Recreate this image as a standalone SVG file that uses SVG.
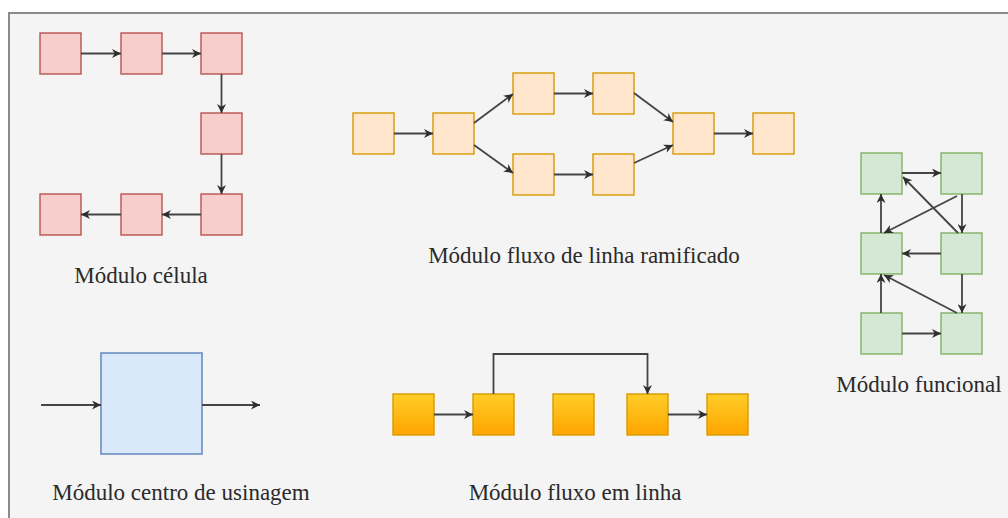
<svg xmlns="http://www.w3.org/2000/svg" width="1008" height="518" viewBox="0 0 1008 518">
  <style>
    .pink { fill: #f8cecc; stroke: #b85450; stroke-width: 1.4; }
    .peach { fill: #ffe6cc; stroke: #d79b00; stroke-width: 1.4; }
    .green { fill: #d5e8d4; stroke: #82b366; stroke-width: 1.4; }
    .blue { fill: #dae8fc; stroke: #6c8ebf; stroke-width: 1.6; }
    .gold { fill: url(#goldGrad); stroke: #d79b00; stroke-width: 1.4; }
    .edge { fill: none; stroke: #444444; stroke-width: 1.8; marker-end: url(#arrow); }
    .label { font-family: "Liberation Serif", "Times New Roman", serif; font-size: 23px; fill: #2a2a2a; text-anchor: middle; }
  </style>
  <defs>
    <linearGradient id="goldGrad" x1="0" y1="0" x2="0" y2="1">
      <stop offset="0" stop-color="#ffcd28"/>
      <stop offset="1" stop-color="#ffa500"/>
    </linearGradient>
    <marker id="arrow" viewBox="0 0 10 10" refX="10" refY="5" markerWidth="10" markerHeight="9" markerUnits="userSpaceOnUse" orient="auto">
      <path d="M0,0 L10,5 L0,10 L3,5 z" fill="#2e2e2e"/>
    </marker>
  </defs>

  <!-- background and frame -->
  <rect x="0" y="0" width="1008" height="518" fill="#ffffff"/>
  <rect x="9" y="13" width="1010" height="520" fill="#f4f4f4" stroke="#8a8a8a" stroke-width="2"/>

  <!-- cell module -->
  <g id="cell-1"><rect class="pink" x="40" y="33" width="41" height="41"/></g>
  <g id="cell-2"><rect class="pink" x="121" y="33" width="41" height="41"/></g>
  <g id="cell-3"><rect class="pink" x="201" y="33" width="41" height="41"/></g>
  <g id="cell-4"><rect class="pink" x="201" y="113" width="41" height="41"/></g>
  <g id="cell-5"><rect class="pink" x="201" y="194" width="41" height="41"/></g>
  <g id="cell-6"><rect class="pink" x="121" y="194" width="41" height="41"/></g>
  <g id="cell-7"><rect class="pink" x="40" y="194" width="41" height="41"/></g>
  <g id="cell-label"><text class="label" x="141" y="283">Módulo célula</text></g>

  <!-- branched line flow module -->
  <g id="branch-1"><rect class="peach" x="353" y="113" width="41" height="41"/></g>
  <g id="branch-2"><rect class="peach" x="433" y="113" width="41" height="41"/></g>
  <g id="branch-3"><rect class="peach" x="513" y="73" width="41" height="41"/></g>
  <g id="branch-4"><rect class="peach" x="593" y="73" width="41" height="41"/></g>
  <g id="branch-5"><rect class="peach" x="513" y="154" width="41" height="41"/></g>
  <g id="branch-6"><rect class="peach" x="593" y="154" width="41" height="41"/></g>
  <g id="branch-7"><rect class="peach" x="673" y="113" width="41" height="41"/></g>
  <g id="branch-8"><rect class="peach" x="753" y="113" width="41" height="41"/></g>
  <g id="branch-label"><text class="label" x="584" y="263">Módulo fluxo de linha ramificado</text></g>

  <!-- functional module -->
  <g id="func-1"><rect class="green" x="861" y="153" width="41" height="41"/></g>
  <g id="func-2"><rect class="green" x="941" y="153" width="41" height="41"/></g>
  <g id="func-3"><rect class="green" x="861" y="233" width="41" height="41"/></g>
  <g id="func-4"><rect class="green" x="941" y="233" width="41" height="41"/></g>
  <g id="func-5"><rect class="green" x="861" y="313" width="41" height="41"/></g>
  <g id="func-6"><rect class="green" x="941" y="313" width="41" height="41"/></g>
  <g id="func-label"><text class="label" x="919" y="392">Módulo funcional</text></g>

  <!-- machining center module -->
  <g id="machining-center"><rect class="blue" x="101" y="353" width="101" height="101"/></g>
  <g id="machining-label"><text class="label" x="181" y="500">Módulo centro de usinagem</text></g>

  <!-- line flow module -->
  <g id="line-1"><rect class="gold" x="393" y="394" width="41" height="41"/></g>
  <g id="line-2"><rect class="gold" x="473" y="394" width="41" height="41"/></g>
  <g id="line-3"><rect class="gold" x="553" y="394" width="41" height="41"/></g>
  <g id="line-4"><rect class="gold" x="627" y="394" width="41" height="41"/></g>
  <g id="line-5"><rect class="gold" x="707" y="394" width="41" height="41"/></g>
  <g id="line-label"><text class="label" x="575" y="500">Módulo fluxo em linha</text></g>

  <!-- connectors -->
  <g id="connectors">
    <!-- cell -->
    <line class="edge" x1="81" y1="53.5" x2="121" y2="53.5"/>
    <line class="edge" x1="162" y1="53.5" x2="201" y2="53.5"/>
    <line class="edge" x1="221.5" y1="74" x2="221.5" y2="113"/>
    <line class="edge" x1="221.5" y1="154" x2="221.5" y2="194"/>
    <line class="edge" x1="201" y1="214.5" x2="162" y2="214.5"/>
    <line class="edge" x1="121" y1="214.5" x2="81" y2="214.5"/>

    <!-- branched flow -->
    <line class="edge" x1="394" y1="133.5" x2="433" y2="133.5"/>
    <line class="edge" x1="474" y1="123" x2="513" y2="94"/>
    <line class="edge" x1="474" y1="145" x2="513" y2="173"/>
    <line class="edge" x1="554" y1="93.5" x2="593" y2="93.5"/>
    <line class="edge" x1="554" y1="174.5" x2="593" y2="174.5"/>
    <line class="edge" x1="634" y1="93" x2="673" y2="122"/>
    <line class="edge" x1="634" y1="163" x2="673" y2="145"/>
    <line class="edge" x1="714" y1="133.5" x2="753" y2="133.5"/>

    <!-- functional -->
    <line class="edge" x1="902" y1="173" x2="941" y2="173"/>
    <line class="edge" x1="958" y1="233" x2="903" y2="177"/>
    <line class="edge" x1="957" y1="196" x2="884" y2="233"/>
    <line class="edge" x1="962" y1="194" x2="962" y2="233"/>
    <line class="edge" x1="881" y1="233" x2="881" y2="194"/>
    <line class="edge" x1="941" y1="253.5" x2="902" y2="253.5"/>
    <line class="edge" x1="962" y1="274" x2="962" y2="313"/>
    <line class="edge" x1="957" y1="313" x2="884" y2="275"/>
    <line class="edge" x1="881" y1="313" x2="881" y2="274"/>
    <line class="edge" x1="902" y1="333.5" x2="941" y2="333.5"/>

    <!-- machining center -->
    <line class="edge" x1="41" y1="405" x2="101" y2="405"/>
    <line class="edge" x1="202" y1="405" x2="260" y2="405"/>

    <!-- line flow -->
    <line class="edge" x1="434" y1="414.5" x2="473" y2="414.5"/>
    <path class="edge" d="M493.5,394 V354 H647.5 V394"/>
    <line class="edge" x1="668" y1="414.5" x2="707" y2="414.5"/>
  </g>
</svg>
